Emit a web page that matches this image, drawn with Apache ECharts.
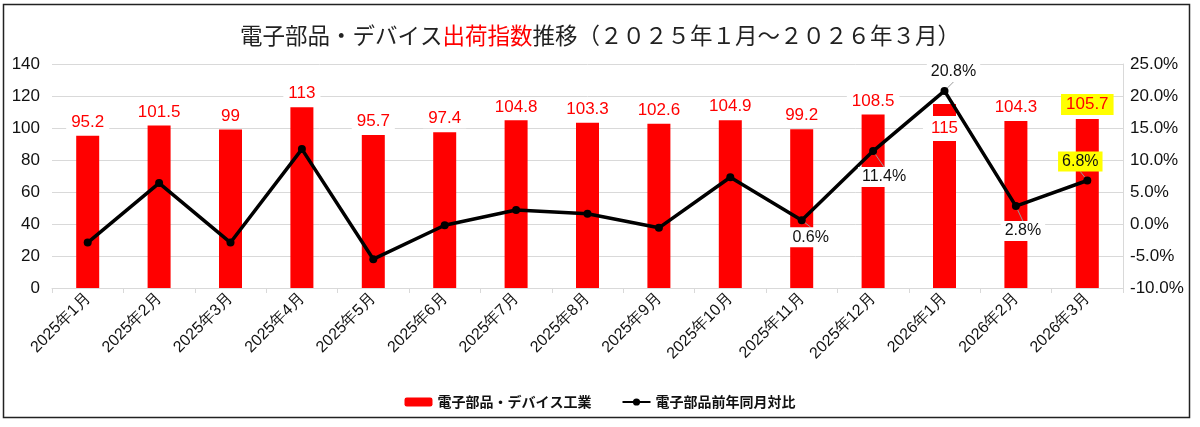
<!DOCTYPE html>
<html>
<head>
<meta charset="utf-8">
<script src="https://cdn.jsdelivr.net/npm/echarts@6/dist/echarts.min.js"></script>
<style>
  html, body { margin: 0; padding: 0; background: #fff; }
  #chart { width: 1200px; height: 427px; }
</style>
</head>
<body>
<div id="chart"></div>
<script>
const months = ['2025年1月', '2025年2月', '2025年3月', '2025年4月', '2025年5月', '2025年6月', '2025年7月',
  '2025年8月', '2025年9月', '2025年10月', '2025年11月', '2025年12月', '2026年1月', '2026年2月', '2026年3月']
const shipmentIndex = [95.2, 101.5, 99, 113, 95.7, 97.4, 104.8, 103.3, 102.6, 104.9, 99.2, 108.5, 115, 104.3, 105.7]
const yoyChange = [-2.9, 6.4, -2.9, 11.7, -5.5, -0.2, 2.2, 1.6, -0.6, 7.3, 0.6, 11.4, 20.8, 2.8, 6.8]
const leftTicks = [0, 20, 40, 60, 80, 100, 120, 140]
const rightTicks = [-10, 5, 25]

// which line points get a label, and where it is pushed
const lineLabelShift = {
  10: [9, 17],
  11: [11, 26],
  12: [9, -19],
  13: [7, 25],
  14: [-7, -19]
}
const highlightIndex = 14
const insideLabelIndex = 12

const numFont = '"Liberation Sans", Arial, sans-serif'
const jpFont = '"Noto Sans CJK JP", sans-serif'

const chart = echarts.init(document.getElementById('chart'))

chart.setOption({
  animation: false,
  textStyle: { fontFamily: numFont },
  graphic: [{
    type: 'rect',
    shape: { x: 3.5, y: 4.5, width: 1186, height: 413 },
    style: { fill: 'none', stroke: '#222', lineWidth: 1.5 },
    z: -1
  }],
  title: {
    left: 'center',
    top: 19,
    text: '{a|電子部品・デバイス}{r|出荷指数}{a|推移（２０２５年１月～２０２６年３月）}',
    textStyle: {
      fontWeight: 'normal',
      rich: {
        a: { fontFamily: jpFont, fontSize: 22.5, fontWeight: 'normal', color: '#222' },
        r: { fontFamily: jpFont, fontSize: 22.5, fontWeight: 'normal', color: '#ff0000' }
      }
    }
  },
  legend: {
    left: 'center',
    top: 390,
    itemGap: 30,
    itemWidth: 28,
    itemHeight: 9,
    textStyle: { fontFamily: jpFont, fontSize: 14, fontWeight: 'bold', color: '#111' },
    data: ['電子部品・デバイス工業', '電子部品前年同月対比']
  },
  grid: { left: 52, right: 77, top: 64, bottom: 139, containLabel: false },
  xAxis: {
    type: 'category',
    data: months,
    axisLine: { lineStyle: { color: '#d9d9d9' } },
    axisTick: { show: true, length: 5, lineStyle: { color: '#d9d9d9' } },
    axisLabel: { rotate: 45, fontSize: 16, color: '#111', margin: 8, fontFamily: numFont, interval: 0 }
  },
  yAxis: [{
    type: 'value',
    min: leftTicks[0],
    max: leftTicks[leftTicks.length - 1],
    interval: 20,
    axisLine: { show: false },
    axisTick: { show: false },
    splitLine: { lineStyle: { color: '#d9d9d9', width: 1 } },
    axisLabel: { fontSize: 17, color: '#111', margin: 12 }
  }, {
    type: 'value',
    min: rightTicks[0],
    max: rightTicks[2],
    interval: rightTicks[1],
    position: 'right',
    axisLine: { show: true, lineStyle: { color: '#d9d9d9' } },
    axisTick: { show: false },
    splitLine: { show: false },
    axisLabel: { fontSize: 17, color: '#111', margin: 7, formatter: v => v.toFixed(1) + '%' }
  }],
  series: [{
    name: '電子部品・デバイス工業',
    type: 'bar',
    barWidth: 23,
    itemStyle: { color: '#ff0000' },
    label: {
      show: true,
      position: 'top',
      distance: 4,
      fontSize: 17,
      color: '#ff0000',
      backgroundColor: '#fff',
      padding: [1, 5]
    },
    data: shipmentIndex.map((v, i) => {
      if (i === insideLabelIndex) {
        return { value: v, label: { position: 'insideTop', distance: 12, padding: [4, 8] } }
      }
      if (i === highlightIndex) {
        return { value: v, label: { backgroundColor: '#ffff00', padding: [2, 5] } }
      }
      return v
    }),
    z: 2
  }, {
    name: '電子部品前年同月対比',
    type: 'line',
    yAxisIndex: 1,
    symbol: 'circle',
    symbolSize: 8,
    lineStyle: { color: '#000', width: 3.5 },
    itemStyle: { color: '#000' },
    label: {
      show: true,
      position: 'inside',
      fontSize: 16,
      color: '#111',
      backgroundColor: '#fff',
      padding: [2, 4],
      formatter: p => (lineLabelShift[p.dataIndex] ? p.value.toFixed(1) + '%' : '')
    },
    labelLine: { show: true, lineStyle: { color: '#999', width: 1 } },
    labelLayout: p => {
      const s = lineLabelShift[p.dataIndex]
      return s ? { dx: s[0], dy: s[1] } : {}
    },
    data: yoyChange.map((v, i) => {
      if (!lineLabelShift[i]) {
        return { value: v, label: { show: false } }
      }
      if (i === highlightIndex) {
        return { value: v, label: { backgroundColor: '#ffff00' } }
      }
      return v
    }),
    z: 5
  }]
})
</script>
</body>
</html>
